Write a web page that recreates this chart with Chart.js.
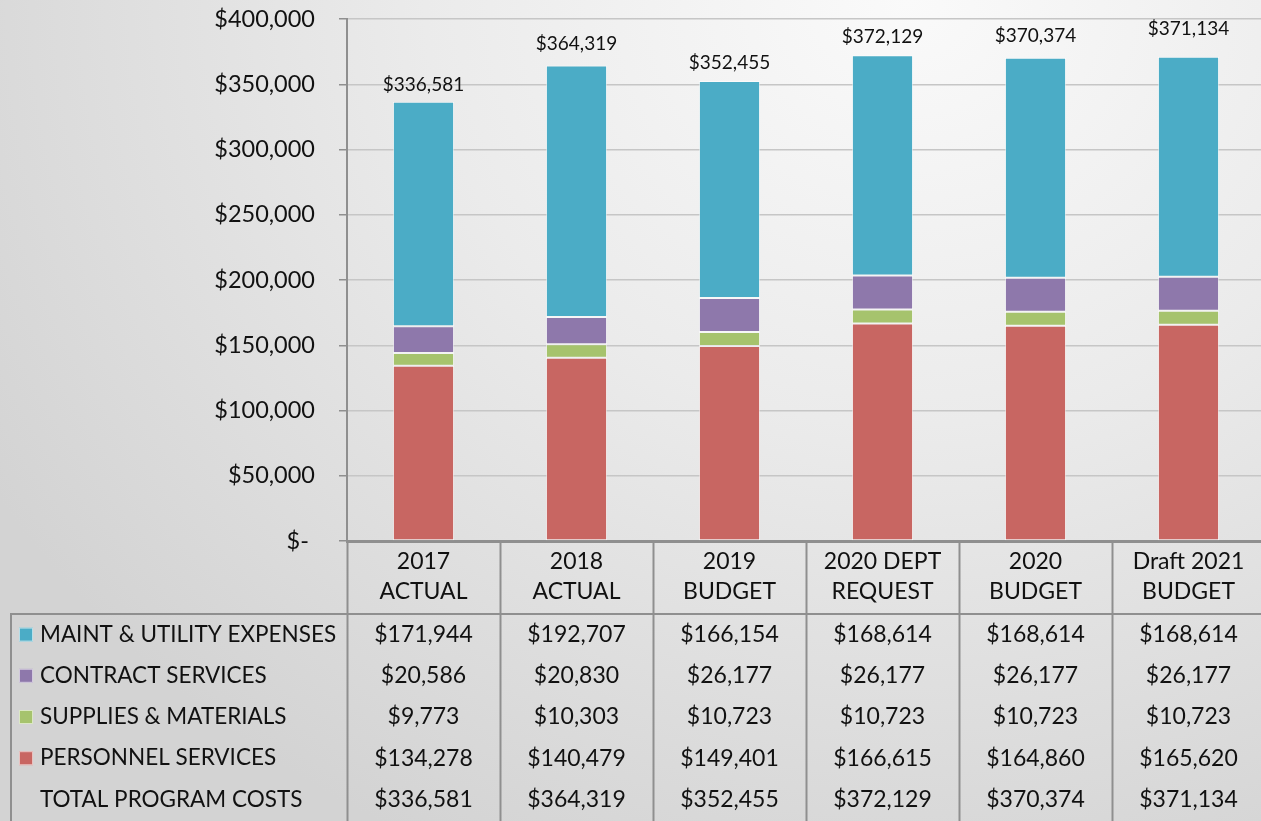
<!DOCTYPE html>
<html>
<head>
<meta charset="utf-8">
<script src="https://cdn.jsdelivr.net/npm/chart.js@4.4.1/dist/chart.umd.min.js"></script>
<style>
  html, body { margin: 0; padding: 0; width: 1261px; height: 821px; overflow: hidden; }
  body { background: radial-gradient(ellipse 85% 115% at 72% 0%, #fafafa 0%, #ebebeb 45%, #d3d3d3 100%); }
  #wrap { position: relative; width: 1265px; height: 821px; }
</style>
</head>
<body>
<div id="wrap"><canvas id="budget-chart"></canvas></div>
<script>
const categories = [['2017', 'ACTUAL'], ['2018', 'ACTUAL'], ['2019', 'BUDGET'], ['2020 DEPT', 'REQUEST'], ['2020', 'BUDGET'], ['Draft 2021', 'BUDGET']];
const maintUtility = [171944, 192707, 166154, 168614, 168614, 168614];
const contractServices = [20586, 20830, 26177, 26177, 26177, 26177];
const suppliesMaterials = [9773, 10303, 10723, 10723, 10723, 10723];
const personnelServices = [134278, 140479, 149401, 166615, 164860, 165620];
const totalCosts = [336581, 364319, 352455, 372129, 370374, 371134];
const yTicks = [0, 50000, 100000, 150000, 200000, 250000, 300000, 350000, 400000];

// how far each total label sits above its bar (px)
const labelLift = [17, 22, 18, 18, 22, 28];

const FONT = 'Lato';
const lineGray = '#8f8f8f';

const money = v => '$' + v.toLocaleString('en-US');

const tablePlugin = {
    id: 'dataTable',
    afterDatasetsDraw(chart) {
        const ctx = chart.ctx;
        const x = chart.scales.x, y = chart.scales.y;
        ctx.save();
        ctx.font = '19px ' + FONT;
        ctx.fillStyle = '#111';
        ctx.textAlign = 'center';
        ctx.textBaseline = 'middle';
        totalCosts.forEach((t, i) => {
            ctx.fillText(money(t), x.getPixelForValue(i), y.getPixelForValue(t) - labelLift[i]);
        });
        ctx.restore();
    },
    afterDraw(chart) {
        const ctx = chart.ctx;
        const area = chart.chartArea;
        const x = chart.scales.x;
        const cw = (area.right - area.left) / categories.length;
        const headBottom = 614;
        const rowH = 41.2;
        ctx.save();
        ctx.strokeStyle = lineGray;
        ctx.lineWidth = 2;
        ctx.beginPath();
        for (let i = 0; i <= categories.length; i++) {
            const cx = Math.round(area.left + i * cw) + 0.5;
            ctx.moveTo(cx, area.bottom);
            ctx.lineTo(cx, chart.height);
        }
        ctx.moveTo(10, headBottom);
        ctx.lineTo(chart.width, headBottom);
        ctx.moveTo(11, headBottom);
        ctx.lineTo(11, chart.height);
        ctx.stroke();

        const rows = [
            { name: 'MAINT & UTILITY EXPENSES', data: maintUtility, color: chart.data.datasets[3].backgroundColor },
            { name: 'CONTRACT SERVICES', data: contractServices, color: chart.data.datasets[2].backgroundColor },
            { name: 'SUPPLIES & MATERIALS', data: suppliesMaterials, color: chart.data.datasets[1].backgroundColor },
            { name: 'PERSONNEL SERVICES', data: personnelServices, color: chart.data.datasets[0].backgroundColor },
            { name: 'TOTAL PROGRAM COSTS', data: totalCosts, color: null }
        ];
        ctx.textBaseline = 'middle';
        rows.forEach((r, ri) => {
            const cy = headBottom + rowH * (ri + 0.5);
            if (r.color) {
                ctx.fillStyle = r.color;
                ctx.fillRect(19, cy - 7, 14, 14);
                ctx.strokeStyle = 'rgba(255,255,255,0.6)';
                ctx.lineWidth = 1;
                ctx.strokeRect(19.5, cy - 6.5, 13, 13);
            }
            ctx.fillStyle = '#111';
            ctx.font = '22.5px ' + FONT;
            ctx.textAlign = 'left';
            ctx.fillText(r.name, 40, cy);
            ctx.font = '23px ' + FONT;
            ctx.textAlign = 'center';
            r.data.forEach((v, i) => ctx.fillText(money(v), x.getPixelForValue(i), cy));
        });
        ctx.restore();
    }
};

const barStyle = {
    borderColor: 'rgba(255,255,255,0.55)',
    borderWidth: 1,
    borderSkipped: false,
    barPercentage: 0.8,
    categoryPercentage: 0.5
};

new Chart(document.getElementById('budget-chart'), {
    type: 'bar',
    data: {
        labels: categories,
        datasets: [
            { label: 'PERSONNEL SERVICES', data: personnelServices, backgroundColor: '#C86662', ...barStyle },
            { label: 'SUPPLIES & MATERIALS', data: suppliesMaterials, backgroundColor: '#A6C36D', ...barStyle },
            { label: 'CONTRACT SERVICES', data: contractServices, backgroundColor: '#8E78AB', ...barStyle },
            { label: 'MAINT & UTILITY EXPENSES', data: maintUtility, backgroundColor: '#4BACC6', ...barStyle }
        ]
    },
    options: {
        responsive: true,
        maintainAspectRatio: false,
        animation: false,
        layout: { padding: { top: 19, left: 0, right: 0, bottom: 0 } },
        plugins: {
            legend: { display: false },
            tooltip: { enabled: false }
        },
        scales: {
            x: {
                stacked: true,
                grid: { display: false, drawTicks: false },
                border: { display: true, color: lineGray, width: 3 },
                ticks: {
                    color: '#111',
                    padding: 6,
                    maxRotation: 0,
                    font: { family: FONT, size: 23, lineHeight: 1.3 }
                },
                afterFit(scale) { scale.height = 280; scale.paddingLeft = 0; scale.paddingRight = 0; }
            },
            y: {
                stacked: true,
                min: 0,
                max: 400000,
                afterBuildTicks(scale) { scale.ticks = yTicks.map(v => ({ value: v })); },
                grid: { color: '#c6c6c6', lineWidth: 1.5, tickLength: 8, tickColor: lineGray },
                border: { display: true, color: lineGray, width: 2 },
                ticks: {
                    color: '#111',
                    padding: 24,
                    font: { family: FONT, size: 23.5 },
                    callback: v => v === 0 ? '$- ' : money(v)
                },
                afterFit(scale) { scale.width = 347; scale.paddingTop = 0; scale.paddingBottom = 0; }
            }
        }
    },
    plugins: [tablePlugin]
});
</script>
</body>
</html>
